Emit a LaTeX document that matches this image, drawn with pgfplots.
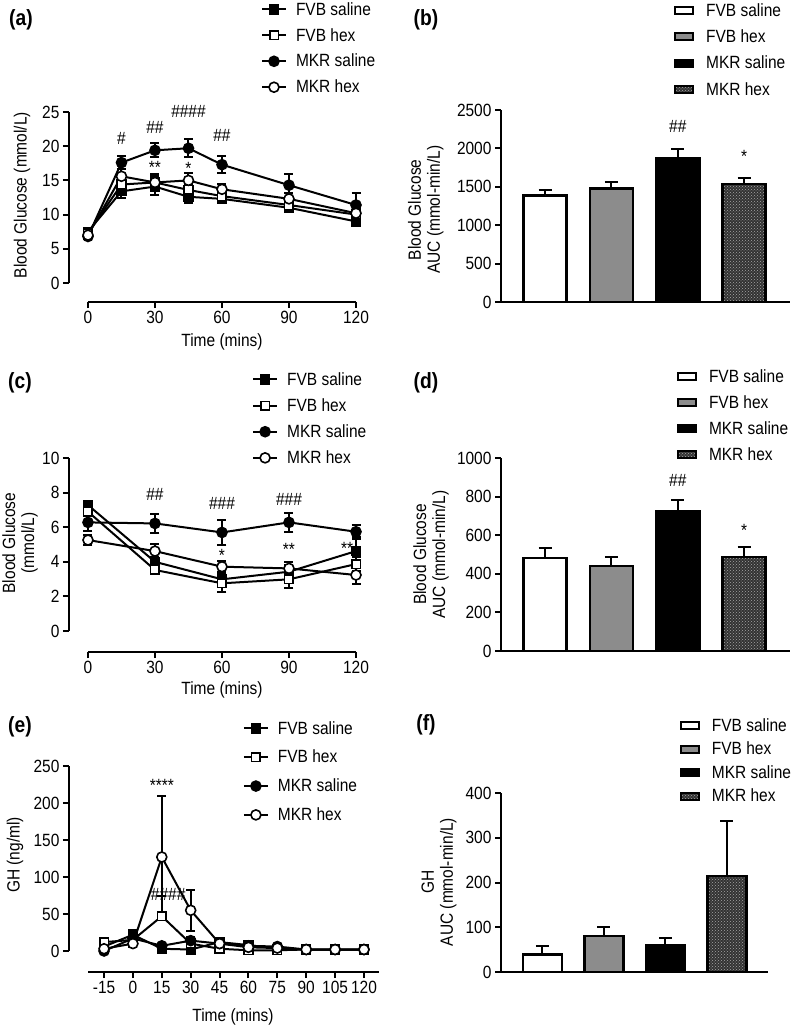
\documentclass[border=0pt]{standalone}
\usepackage{fontspec}
\setmainfont{Liberation Sans}[FakeStretch=0.875]
\usepackage{pgfplots}
\pgfplotsset{compat=1.18}
\usetikzlibrary{patterns}

\newcommand{\fs}{\fontsize{17.7}{19}\selectfont}
\newcommand{\pl}{\bfseries\fontsize{22}{24}\selectfont}
\colorlet{hexgray}{black!45}

\pgfplotsset{
  base/.style={
    scale only axis, clip=false,
    axis x line*=bottom, axis y line*=left,
    axis line style={line width=2pt},
    every tick/.append style={black, line width=2pt},
    major tick length=6pt, tick align=outside,
    tick label style={font=\fs},
    label style={font=\fs},
    /pgf/number format/assume math mode=true,
    /pgf/number format/1000 sep={},
    scaled ticks=false,
    legend cell align=left,
    legend style={draw=none, fill=none, inner sep=0pt, outer sep=0pt,
      anchor=north west, font=\fs, column sep=7pt, row sep=7pt},
  },
  timeax/.style={base, axis line style={draw=none}},
  barax/.style={base, xtick=\empty, ymin=0,
    legend style={column sep=10pt}},
  ln/.style={black, line width=2pt, mark options={solid, line width=1.6pt, fill=#1},
    legend image code/.code={\draw[mark repeat=2,mark phase=2,##1]
      plot coordinates {(0pt,0pt) (12pt,0pt) (24pt,0pt)};},
    /pgfplots/error bars/y dir=both, /pgfplots/error bars/y explicit,
    /pgfplots/error bars/error bar style={line width=2pt},
    /pgfplots/error bars/error mark options={rotate=90, mark size=4.5pt, line width=2pt}},
  fvbs/.style={ln=black, mark=square*, mark size=4.3pt},
  fvbh/.style={ln=white, mark=square*, mark size=4.3pt},
  mkrs/.style={ln=black, mark=*, mark size=5pt},
  mkrh/.style={ln=white, mark=*, mark size=5pt},
  bar/.style={ybar, bar shift=0pt, bar width=#1, draw=black, line width=2.5pt,
    legend image code/.code={\draw[##1, line width=2pt] (0pt,-3.5pt) rectangle (18pt,3.5pt);},
    /pgfplots/error bars/y dir=plus, /pgfplots/error bars/y explicit,
    /pgfplots/error bars/error bar style={line width=2pt, draw=black},
    /pgfplots/error bars/error mark options={rotate=90, mark size=6.5pt, line width=2pt, draw=black}},
  hexpat/.style={fill=black!80, postaction={pattern=crosshatch dots, pattern color=black!35}},
}

\begin{document}
\begin{tikzpicture}
\path[use as bounding box] (0pt,0pt) rectangle (792pt,-1028pt);

% ---------- (a) ----------
\node[font=\pl] at (21pt,-20pt) {(a)};
\begin{axis}[timeax, at={(69pt,-302pt)}, anchor=south west,
  width=287pt, height=190pt,
  xmin=-8.5, xmax=120, ymin=-2.78, ymax=25,
  xtick={0,30,60,90,120}, ytick={0,5,10,15,20,25},
  xlabel={Time (mins)}, ylabel={Blood Glucose (mmol/L)},
  xlabel style={at={(axis description cs:0.533,-0.21)}, anchor=center},
  ylabel style={at={(axis description cs:-0.164,0.563)}, anchor=center},
  legend style={at={(axis description cs:0.669,1.588)}, row sep=7.6pt},
]
\draw[line width=2pt] (axis cs:-8.5,0) -- (axis cs:-8.5,25);
\draw[line width=2pt] (axis cs:0,-2.78) -- (axis cs:120,-2.78);
\addplot[fvbs] coordinates {(0,7.5)+-(0,0.4) (15,13.4)+-(0,1.0) (30,14.1)+-(0,1.2)
  (45,12.6)+-(0,0.9) (60,12.3)+-(0,0.5) (90,11.0)+-(0,0.6) (120,9.0)+-(0,0.4)};
\addlegendentry{FVB saline}
\addplot[fvbh] coordinates {(0,7.3)+-(0,0.4) (15,14.4)+-(0,1.0) (30,14.7)+-(0,1.0)
  (45,13.6)+-(0,0.9) (60,12.7)+-(0,0.6) (90,11.4)+-(0,0.7) (120,10.0)+-(0,0.5)};
\addlegendentry{FVB hex}
\addplot[mkrs] coordinates {(0,6.8)+-(0,0.3) (15,17.6)+-(0,1.0) (30,19.4)+-(0,1.0)
  (45,19.7)+-(0,1.3) (60,17.3)+-(0,1.2) (90,14.3)+-(0,1.7) (120,11.4)+-(0,1.7)};
\addlegendentry{MKR saline}
\addplot[mkrh] coordinates {(0,7.0)+-(0,0.3) (15,15.6)+-(0,1.0) (30,14.7)+-(0,1.3)
  (45,15.0)+-(0,1.1) (60,13.7)+-(0,0.8) (90,12.3)+-(0,0.9) (120,10.2)+-(0,0.8)};
\addlegendentry{MKR hex}
\node[font=\fs] at (axis cs:15,21.1) {\#};
\node[font=\fs] at (axis cs:30,22.8) {\#\#};
\node[font=\fs] at (axis cs:45,25.1) {\#\#\#\#};
\node[font=\fs] at (axis cs:60,21.5) {\#\#};
\node[font=\fs] at (axis cs:30,16.9) {**};
\node[font=\fs] at (axis cs:45,16.8) {*};
\end{axis}

% ---------- (b) ----------
\node[font=\pl] at (426pt,-20pt) {(b)};
\begin{axis}[barax, at={(501pt,-302pt)}, anchor=south west,
  width=289pt, height=192pt,
  xmin=0.336, xmax=4.69, ymax=2500, ytick={0,500,...,2500},
  ylabel={Blood Glucose\\AUC (mmol-min/L)},
  ylabel style={at={(axis description cs:-0.26,0.48)}, anchor=center, align=center},
  legend style={at={(axis description cs:0.599,1.566)}, row sep=8pt},
]
\addplot[bar=43pt, fill=white] coordinates {(1,1390)+-(0,70)};
\addlegendentry{FVB saline}
\addplot[bar=43pt, fill=hexgray] coordinates {(2,1475)+-(0,90)};
\addlegendentry{FVB hex}
\addplot[bar=43pt, fill=black] coordinates {(3,1875)+-(0,118)};
\addlegendentry{MKR saline}
\addplot[bar=43pt, hexpat] coordinates {(4,1535)+-(0,75)};
\addlegendentry{MKR hex}
\node[font=\fs] at (axis cs:3,2280) {\#\#};
\node[font=\fs] at (axis cs:4,1900) {*};
\end{axis}

% ---------- (c) ----------
\node[font=\pl] at (20pt,-383pt) {(c)};
\begin{axis}[timeax, at={(69pt,-652pt)}, anchor=south west,
  width=287pt, height=194pt,
  xmin=-8.5, xmax=120, ymin=-1.21, ymax=10,
  xtick={0,30,60,90,120}, ytick={0,2,4,6,8,10},
  xlabel={Time (mins)}, ylabel={Blood Glucose\\(mmol/L)},
  xlabel style={at={(axis description cs:0.533,-0.196)}, anchor=center},
  ylabel style={at={(axis description cs:-0.171,0.562)}, anchor=center, align=center},
  legend style={at={(axis description cs:0.638,1.452)}, row sep=7.8pt},
]
\draw[line width=2pt] (axis cs:-8.5,0) -- (axis cs:-8.5,10);
\draw[line width=2pt] (axis cs:0,-1.21) -- (axis cs:120,-1.21);
\addplot[fvbs] coordinates {(0,7.28)+-(0,0.2) (30,4.0)+-(0,0.3) (60,2.99)+-(0,0.4)
  (90,3.43)+-(0,0.4) (120,4.62)+-(0,0.8)};
\addlegendentry{FVB saline}
\addplot[fvbh] coordinates {(0,6.9)+-(0,0.2) (30,3.53)+-(0,0.2) (60,2.76)+-(0,0.5)
  (90,2.99)+-(0,0.5) (120,3.87)+-(0,0.4)};
\addlegendentry{FVB hex}
\addplot[mkrs] coordinates {(0,6.28)+-(0,0.5) (30,6.22)+-(0,0.55) (60,5.7)+-(0,0.7)
  (90,6.28)+-(0,0.57) (120,5.74)+-(0,0.4)};
\addlegendentry{MKR saline}
\addplot[mkrh] coordinates {(0,5.26)+-(0,0.3) (30,4.62)+-(0,0.4) (60,3.72)+-(0,0.35)
  (90,3.62)+-(0,0.35) (120,3.24)+-(0,0.5)};
\addlegendentry{MKR hex}
\node[font=\fs] at (axis cs:30,7.9) {\#\#};
\node[font=\fs] at (axis cs:60,7.4) {\#\#\#};
\node[font=\fs] at (axis cs:90,7.6) {\#\#\#};
\node[font=\fs] at (axis cs:60,4.35) {*};
\node[font=\fs] at (axis cs:90,4.7) {**};
\node[font=\fs] at (axis cs:116,4.75) {**};
\end{axis}

% ---------- (d) ----------
\node[font=\pl] at (426pt,-383pt) {(d)};
\begin{axis}[barax, at={(501pt,-651pt)}, anchor=south west,
  width=289pt, height=193pt,
  xmin=0.336, xmax=4.69, ymax=1000, ytick={0,200,...,1000},
  ylabel={Blood Glucose\\AUC (mmol-min/L)},
  ylabel style={at={(axis description cs:-0.242,0.5)}, anchor=center, align=center},
  legend style={at={(axis description cs:0.609,1.470)}, row sep=7.8pt},
]
\addplot[bar=43pt, fill=white] coordinates {(1,483)+-(0,49)};
\addlegendentry{FVB saline}
\addplot[bar=43pt, fill=hexgray] coordinates {(2,440)+-(0,49)};
\addlegendentry{FVB hex}
\addplot[bar=43pt, fill=black] coordinates {(3,726)+-(0,57)};
\addlegendentry{MKR saline}
\addplot[bar=43pt, hexpat] coordinates {(4,487)+-(0,50)};
\addlegendentry{MKR hex}
\node[font=\fs] at (axis cs:3,884) {\#\#};
\node[font=\fs] at (axis cs:4,625) {*};
\end{axis}

% ---------- (e) ----------
\node[font=\pl] at (20pt,-727pt) {(e)};
\begin{axis}[timeax, at={(69pt,-972pt)}, anchor=south west,
  width=310pt, height=206pt,
  xmin=-33.2, xmax=127.8, ymin=-28.4, ymax=250,
  xtick={-15,0,15,30,45,60,75,90,105,120},
  xticklabels={-15,0,15,30,45,60,75,90,105,120},
  ytick={0,50,100,150,200,250},
  xlabel={Time (mins)}, ylabel={GH (ng/ml)},
  xlabel style={at={(axis description cs:0.529,-0.218)}, anchor=center},
  ylabel style={at={(axis description cs:-0.174,0.568)}, anchor=center},
  legend style={at={(axis description cs:0.561,1.227)}, row sep=10.5pt},
]
\draw[line width=2pt] (axis cs:-33.2,0) -- (axis cs:-33.2,250);
\draw[line width=2pt] (axis cs:-23.3,-28.4) -- (axis cs:127.8,-28.4);
\addplot[fvbs] coordinates {(-15,6)+-(0,3) (0,22)+-(0,6) (15,3)+-(0,2) (30,2)+-(0,2)
  (45,12)+-(0,4) (60,8)+-(0,3) (75,3)+-(0,2) (90,2)+-(0,1) (105,2)+-(0,1) (120,2)+-(0,1)};
\addlegendentry{FVB saline}
\addplot[fvbh] coordinates {(-15,12)+-(0,3) (0,15)+-(0,5) (15,47) += (0,28) -= (0,0)
  (30,10)+-(0,4) (45,3)+-(0,2) (60,1)+-(0,1) (75,1)+-(0,1) (90,2)+-(0,1) (105,2)+-(0,1) (120,2)+-(0,1)};
\addlegendentry{FVB hex}
\addplot[mkrs] coordinates {(-15,0)+-(0,2) (0,17)+-(0,8) (15,7)+-(0,2) (30,14)+-(0,5)
  (45,10)+-(0,3) (60,7)+-(0,3) (75,6)+-(0,2) (90,2)+-(0,1) (105,2)+-(0,1) (120,2)+-(0,1)};
\addlegendentry{MKR saline}
\addplot[mkrh] coordinates {(-15,3)+-(0,2) (0,10)+-(0,4) (15,127)+-(0,82) (30,55)+-(0,28)
  (45,10)+-(0,3) (60,5)+-(0,2) (75,4)+-(0,2) (90,2)+-(0,1) (105,2)+-(0,1) (120,2)+-(0,1)};
\addlegendentry{MKR hex}
\node[font=\fs] at (axis cs:15,224) {****};
\node[font=\fs] at (axis cs:18.3,77) {\#\#\#\#};
\end{axis}

% ---------- (f) ----------
\node[font=\pl] at (426pt,-725pt) {(f)};
\begin{axis}[barax, at={(501pt,-972pt)}, anchor=south west,
  width=267pt, height=179pt,
  xmin=0.325, xmax=4.67, ymax=400, ytick={0,100,...,400},
  ylabel={GH\\AUC (mmol-min/L)},
  ylabel style={at={(axis description cs:-0.232,0.503)}, anchor=center, align=center},
  legend style={at={(axis description cs:0.670,1.428)}, row sep=5.2pt},
]
\addplot[bar=39pt, fill=white] coordinates {(1,39)+-(0,19)};
\addlegendentry{FVB saline}
\addplot[bar=39pt, fill=hexgray] coordinates {(2,81)+-(0,20)};
\addlegendentry{FVB hex}
\addplot[bar=39pt, fill=black] coordinates {(3,60)+-(0,17)};
\addlegendentry{MKR saline}
\addplot[bar=39pt, hexpat] coordinates {(4,215)+-(0,123)};
\addlegendentry{MKR hex}
\end{axis}
\end{tikzpicture}
\end{document}
